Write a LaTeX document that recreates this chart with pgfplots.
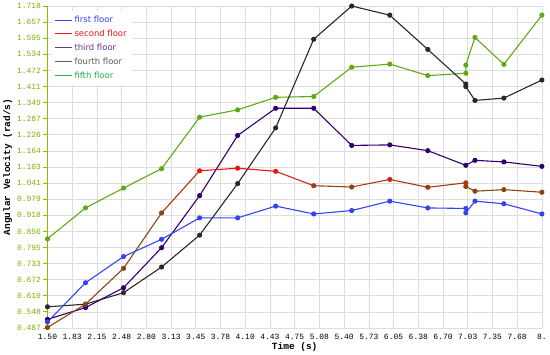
\documentclass[border=0pt]{standalone}
\usepackage{pgfplots}
\pgfplotsset{compat=1.18}
\usepackage{fontspec}
\setmainfont{DejaVu Sans}
\newfontfamily\monof{Liberation Mono}
\definecolor{cBlue}{RGB}{51,68,238}
\definecolor{cBrown}{RGB}{139,69,19}
\definecolor{cRed}{RGB}{235,20,20}
\definecolor{cPurple}{RGB}{50,0,110}
\definecolor{cPurpleT}{RGB}{102,51,153}
\definecolor{cBlack}{RGB}{40,40,40}
\definecolor{cGrayT}{RGB}{90,90,90}
\definecolor{cGreen}{RGB}{95,170,20}
\definecolor{cGreenT}{RGB}{40,170,70}
\definecolor{cAxis}{RGB}{140,190,0}
\definecolor{cTick}{RGB}{125,175,0}
\definecolor{cGrid}{RGB}{222,222,222}
\begin{document}
\begin{tikzpicture}
\begin{axis}[
  scale only axis,
  width=496pt, height=323pt,
  xmin=1.5, xmax=8.0, ymin=0.487, ymax=1.718,
  clip=false,
  axis lines=left,
  axis line style={-},
  x axis line style={cGrid, line width=0.6pt},
  y axis line style={cAxis, line width=1pt},
  grid=major,
  grid style={cGrid, line width=0.7pt},
  xtick={1.5,1.825,2.15,2.475,2.8,3.125,3.45,3.775,4.1,4.425,4.75,5.075,5.4,5.725,6.05,6.375,6.7,7.025,7.35,7.675,8.0},
  xticklabels={1.50,1.83,2.15,2.48,2.80,3.13,3.45,3.78,4.10,4.43,4.75,5.08,5.40,5.73,6.05,6.38,6.70,7.03,7.35,7.68,8.},
  ytick={0.487,0.54855,0.6101,0.67165,0.7332,0.79475,0.8563,0.91785,0.9794,1.04095,1.1025,1.16405,1.2256,1.28715,1.3487,1.41025,1.4718,1.53335,1.5949,1.65645,1.718},
  yticklabels={0.487,0.548,0.610,0.672,0.733,0.795,0.856,0.918,0.979,1.041,1.103,1.164,1.226,1.287,1.349,1.411,1.472,1.534,1.595,1.657,1.718},
  x tick label style={font=\monof\fontsize{8}{9}\selectfont, black, yshift=1pt},
  y tick label style={font=\monof\fontsize{8}{9}\selectfont, text=cTick, xshift=1pt},
  x tick style={draw=none},
  y tick style={cAxis, line width=0.8pt},
  tick align=outside,
  major tick length=4pt,
  xlabel={Time (s)},
  ylabel={Angular Velocity (rad/s)},
  xlabel style={font=\monof\bfseries\fontsize{9.5}{10}\selectfont, yshift=4pt},
  ylabel style={font=\monof\bfseries\fontsize{9.5}{10}\selectfont, yshift=-2pt},
  colormap={sf}{rgb255=(139,69,19) rgb255=(139,69,19) rgb255=(200,40,20) rgb255=(235,20,20)},
  point meta min=0.99, point meta max=1.09,
  legend cell align=left,
  legend style={at={(0.008,0.985)}, anchor=north west, draw=none, fill=white,
    font=\fontsize{8.5}{10}\selectfont, row sep=2pt, inner xsep=3pt, inner ysep=3pt},
  legend image code/.code={\draw[#1, line width=0.9pt] (0cm,0cm) -- (0.6cm,0cm);},
  every axis plot/.append style={line width=1.1pt, mark size=2pt},
]
% fifth floor
\addplot[cGreen, mark=*, mark options={fill=cGreen, draw=cGreen}, forget plot] coordinates {
(1.5,0.828) (2.0,0.946) (2.5,1.022) (3.0,1.096) (3.5,1.293) (4.0,1.321) (4.5,1.369) (5.0,1.372)
(5.5,1.484) (6.0,1.496) (6.5,1.452) (7.0,1.461) (7.0,1.492) (7.12,1.598) (7.5,1.495) (8.0,1.683)};
% fourth floor
\addplot[cBlack, mark=*, mark options={fill=cBlack, draw=cBlack}, forget plot] coordinates {
(1.5,0.568) (2.0,0.578) (2.5,0.622) (3.0,0.720) (3.5,0.842) (4.0,1.039) (4.5,1.252) (5.0,1.591)
(5.5,1.718) (6.0,1.683) (6.5,1.552) (7.0,1.420) (7.0,1.410) (7.12,1.357) (7.5,1.366) (8.0,1.435)};
% third floor
\addplot[cPurple, mark=*, mark options={fill=cPurple, draw=cPurple}, forget plot] coordinates {
(1.5,0.520) (2.0,0.565) (2.5,0.641) (3.0,0.794) (3.5,0.993) (4.0,1.223) (4.5,1.327) (5.0,1.327)
(5.5,1.185) (6.0,1.187) (6.5,1.165) (7.0,1.109) (7.12,1.128) (7.5,1.122) (8.0,1.105)};
% second floor (colour follows value: brown low, red high)
\addplot[mesh, point meta=y, forget plot] coordinates {
(1.5,0.489) (2.0,0.578) (2.5,0.715) (3.0,0.927) (3.5,1.088) (4.0,1.098) (4.5,1.086) (5.0,1.031)
(5.5,1.026) (6.0,1.055) (6.5,1.025) (7.0,1.042) (7.0,1.028) (7.12,1.010) (7.5,1.016) (8.0,1.006)};
\addplot[scatter, only marks, point meta=y, mark=*, forget plot,
  scatter/use mapped color={draw=mapped color, fill=mapped color}] coordinates {
(1.5,0.489) (2.0,0.578) (2.5,0.715) (3.0,0.927) (3.5,1.088) (4.0,1.098) (4.5,1.086) (5.0,1.031)
(5.5,1.026) (6.0,1.055) (6.5,1.025) (7.0,1.042) (7.0,1.028) (7.12,1.010) (7.5,1.016) (8.0,1.006)};
% first floor
\addplot[cBlue, mark=*, mark options={fill=cBlue, draw=cBlue}, forget plot] coordinates {
(1.5,0.510) (2.0,0.660) (2.5,0.760) (3.0,0.826) (3.5,0.908) (4.0,0.908) (4.5,0.953) (5.0,0.923)
(5.5,0.936) (6.0,0.972) (6.5,0.946) (7.0,0.944) (7.0,0.927) (7.12,0.972) (7.5,0.962) (8.0,0.923)};

\addlegendimage{cBlue}
\addlegendentry{\textcolor{cBlue}{first floor}}
\addlegendimage{cRed}
\addlegendentry{\textcolor{cRed}{second floor}}
\addlegendimage{cPurpleT}
\addlegendentry{\textcolor{cPurpleT}{third floor}}
\addlegendimage{cGrayT}
\addlegendentry{\textcolor{cGrayT}{fourth floor}}
\addlegendimage{cGreenT}
\addlegendentry{\textcolor{cGreenT}{fifth floor}}
\end{axis}
\end{tikzpicture}
\end{document}
